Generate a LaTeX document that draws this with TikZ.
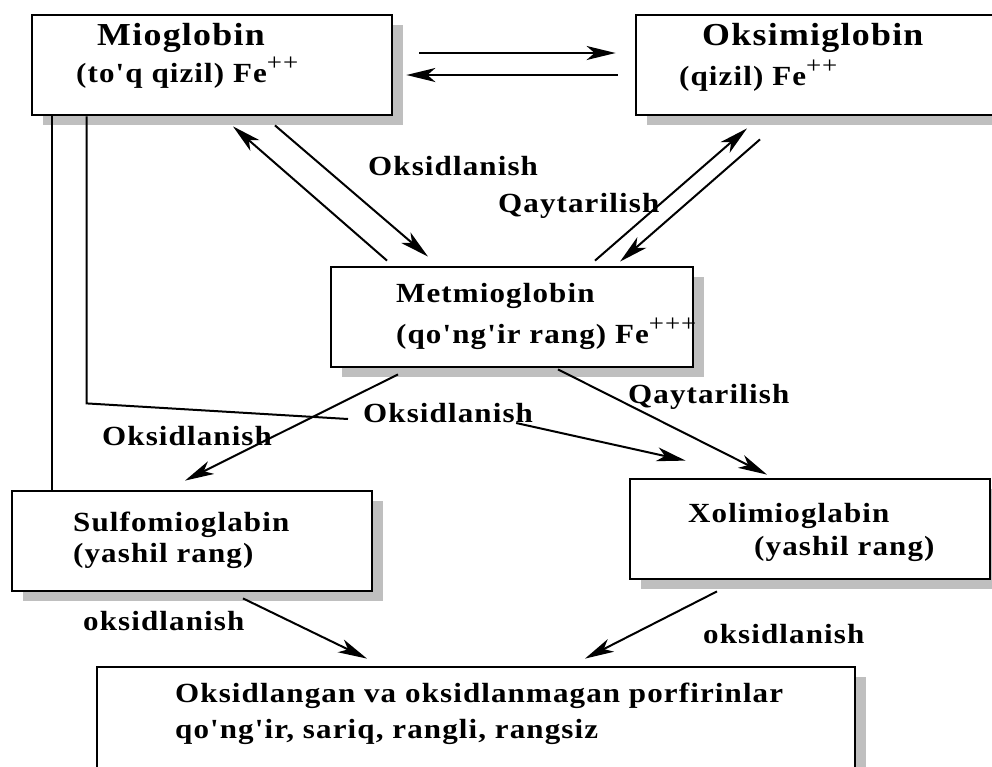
\documentclass[tikz,border=0pt]{standalone}
\usepackage{fontspec}
\setmainfont{Liberation Serif}[Ligatures=TeXOff,LetterSpace=4,FakeStretch=1.12]
\usetikzlibrary{arrows.meta,calc,shadows}
\newcommand\sups[1]{\raisebox{0.42em}{\fontsize{24}{24}\selectfont\mdseries #1}}
\tikzset{
  box/.style={draw, line width=2.8pt, fill=white, inner sep=0pt,
    drop shadow={shadow xshift=11pt, shadow yshift=-10pt, fill=black!25, opacity=1}},
  txt/.style={anchor=base west, inner sep=0pt, font=\fontsize{27.7}{33}\selectfont\bfseries},
  big/.style={txt, font=\fontsize{32}{38}\selectfont\bfseries},
  conn/.style={line width=2pt},
  arr/.style={conn, -{Stealth[length=29pt,width=14pt,inset=8pt]}},
}

\begin{document}
\begin{tikzpicture}[x=1pt, y=-1pt]
        \useasboundingbox (0,0) rectangle (992,766);

        % Boxes
        \node[box, minimum width=360pt, minimum height=100pt] (mio) at (212,65) {};
        \node[box, minimum width=364pt, minimum height=100pt] (oksi) at (818,65) {};
        \node[box, minimum width=362pt, minimum height=100pt] (met) at (512,317) {};
        \node[box, minimum width=360pt, minimum height=100pt] (sulfo) at (192,541) {};
        \node[box, minimum width=360pt, minimum height=100pt] (xoli) at (810,529) {};
        \node[box, minimum width=758pt, minimum height=134pt] (por) at (476,734) {};

        % Box texts
        \node[big] (miot) at (97,45) {Mioglobin};
        \node[txt] (mios) at (76,82) {(to'q qizil) Fe\sups{++}};
        \node[big] (oksit) at (702,45) {Oksimiglobin};
        \node[txt] (oksis) at (679,85) {(qizil) Fe\sups{++}};
        \node[txt] (mett) at (396,302) {Metmioglobin};
        \node[txt] (mets) at (396,343) {(qo'ng'ir rang) Fe\sups{+++}};
        \node[txt] (sult) at (73,531) {Sulfomioglabin};
        \node[txt] (suls) at (73,562) {(yashil rang)};
        \node[txt] (xolt) at (688,522) {Xolimioglabin};
        \node[txt] (xols) at (754,555) {(yashil rang)};
        \node[txt] (port) at (175,702) {Oksidlangan va oksidlanmagan porfirinlar};
        \node[txt] (pors) at (175,738) {qo'ng'ir, sariq, rangli, rangsiz};

        % Labels
        \node[txt] (oks1) at (368,175) {Oksidlanish};
        \node[txt] (qay1) at (498,212) {Qaytarilish};
        \node[txt] (oks2) at (363,422) {Oksidlanish};
        \node[txt] (oks3) at (102,445) {Oksidlanish};
        \node[txt] (qay2) at (628,403) {Qaytarilish};
        \node[txt] (oks4) at (83,630) {oksidlanish};
        \node[txt] (oks5) at (703,643) {oksidlanish};

        % Mioglobin <-> Oksimiglobin
        \draw[arr] ($(mio.east)+(26,-12)$) -- ($(oksi.west)+(-19,-12)$);
        \draw[arr] ($(oksi.west)+(-17,10)$) -- ($(mio.east)+(13,10)$);

        % Mioglobin <-> Metmioglobin
        \draw[arr] ($(met.north)+(-125,-5)$) -- ($(mio.south)+(21,10)$);
        \draw[arr] ($(mio.south)+(63,9)$) -- ($(met.north)+(-84,-9)$);

        % Oksimiglobin <-> Metmioglobin
        \draw[arr] ($(met.north)+(83,-5)$) -- ($(oksi.south)+(-71,12)$);
        \draw[arr] ($(oksi.south)+(-58,23)$) -- ($(met.north)+(108,-4)$);

        % Metmioglobin -> Sulfo / Xoli
        \draw[arr] ($(met.south)+(-114,6)$) -- ($(sulfo.north)+(-7,-9)$);
        \draw[arr] ($(met.south)+(46,1)$) -- ($(xoli.north)+(-43,-3)$);

        % Mioglobin -> Sulfo, Mioglobin -> Xoli
        \draw[conn] ($(mio.south west)+(21,0)$) -- ($(sulfo.north west)+(41,0)$);
        \draw[conn] ($(mio.south west)+(56,0)$) -- ++(0,287) -- ($(oks2.base west)+(-15,-3)$);
        \draw[arr] ($(oks2.base east)+(-17,1)$) -- ($(xoli.north west)+(57,-17)$);

        % -> porfirinlar
        \draw[arr] ($(sulfo.south)+(51,6)$) -- ($(por.north)+(-109,-7)$);
        \draw[arr] ($(xoli.south)+(-93,11)$) -- ($(por.north)+(109,-7)$);
\end{tikzpicture}
\end{document}
